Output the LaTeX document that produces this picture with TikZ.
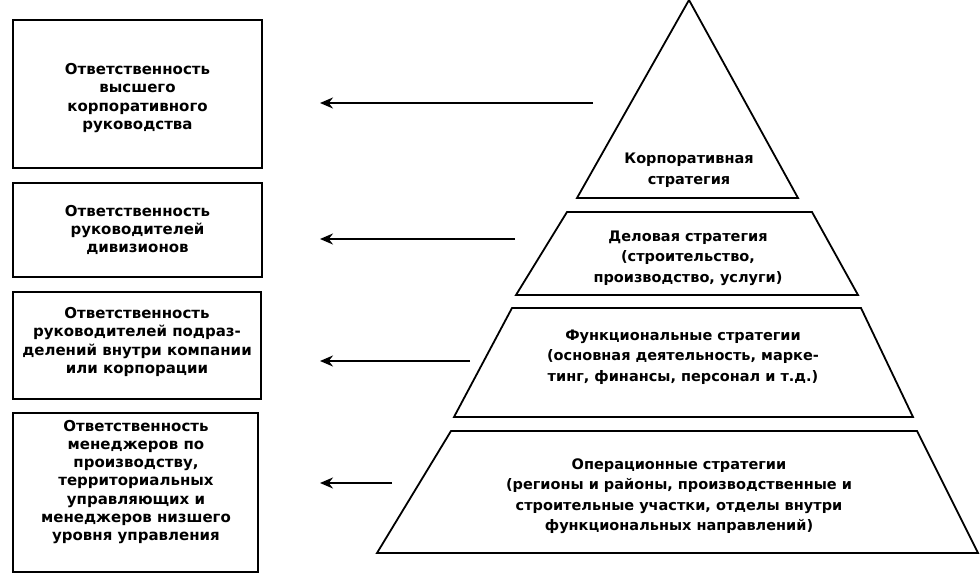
\documentclass[tikz,border=0pt]{standalone}
\usepackage{fontspec}
\setmainfont{DejaVu Sans}
\usetikzlibrary{arrows.meta}
\begin{document}
\begin{tikzpicture}[x=1pt,y=-1pt,line join=miter,
  frame/.style={draw,line width=1.8pt,inner sep=0pt},
  band/.style={draw,line width=1.8pt},
  txt/.style={align=center,inner sep=0pt,font=\fontsize{15}{18.3}\selectfont\bfseries},
  ptxt/.style={align=center,inner sep=0pt,font=\fontsize{14.5}{20.5}\selectfont\bfseries},
  link/.style={line width=1.8pt,-{Stealth[length=13pt,width=11pt]}}]
\useasboundingbox (0,0) rectangle (980,577);
% left boxes
\node[frame,minimum width=249pt,minimum height=148pt] (b1) at (137.5,94) {};
\node[frame,minimum width=249pt,minimum height=94pt] (b2) at (137.5,230) {};
\node[frame,minimum width=248pt,minimum height=107pt] (b3) at (137,345.5) {};
\node[frame,minimum width=245pt,minimum height=159pt] (b4) at (135.5,492.5) {};
\node[txt] (t1) at (137.5,98) {Ответственность\\высшего\\корпоративного\\руководства};
\node[txt] (t2) at (137.5,230) {Ответственность\\руководителей\\дивизионов};
\node[txt] (t3) at (137,342) {Ответственность\\руководителей подраз-\\делений внутри компании\\или корпорации};
\node[txt] (t4) at (136,482) {Ответственность\\менеджеров по\\производству,\\территориальных\\управляющих и\\менеджеров низшего\\уровня управления};
% pyramid
\draw[band] (689,0) -- (798,198) -- (577,198) -- cycle;
\draw[band] (567,212) -- (812,212) -- (858,295) -- (516,295) -- cycle;
\draw[band] (512,308) -- (861,308) -- (913,417) -- (454,417) -- cycle;
\draw[band] (451,431) -- (917,431) -- (978,553) -- (377,553) -- cycle;
\node[ptxt] (p1) at (689,170) {Корпоративная\\стратегия};
\node[ptxt] (p2) at (688,258) {Деловая стратегия\\(строительство,\\производство, услуги)};
\node[ptxt] (p3) at (683,357) {Функциональные стратегии\\(основная деятельность, марке-\\тинг, финансы, персонал и т.д.)};
\node[ptxt] (p4) at (679,496) {Операционные стратегии\\(регионы и районы, производственные и\\строительные участки, отделы внутри\\функциональных направлений)};
% arrows
\coordinate (a1s) at (593,103); \coordinate (a1e) at (320,103);
\coordinate (a2s) at (515,239); \coordinate (a2e) at (320,239);
\coordinate (a3s) at (470,361); \coordinate (a3e) at (320,361);
\coordinate (a4s) at (392,483); \coordinate (a4e) at (320,483);
\draw[link] (a1s) -- (a1e);
\draw[link] (a2s) -- (a2e);
\draw[link] (a3s) -- (a3e);
\draw[link] (a4s) -- (a4e);
\end{tikzpicture}
\end{document}
